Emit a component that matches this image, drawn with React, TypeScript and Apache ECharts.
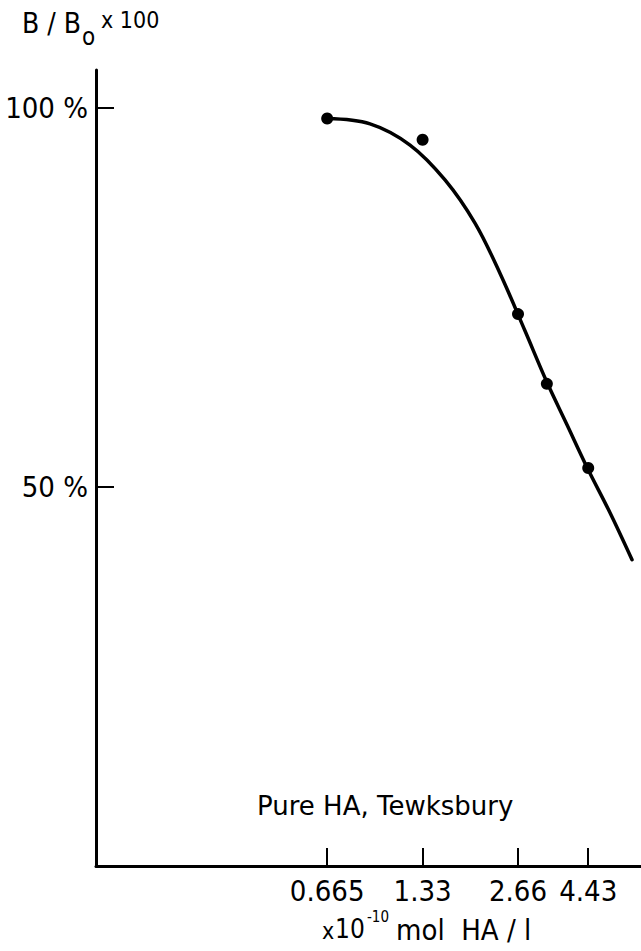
import React, { useEffect, useRef } from "react";
import * as echarts from "echarts";

// Measured points: concentration (x10^-10 mol HA/l) and B/B0 x 100 (%)
const pointConc = [0.665, 1.33, 2.66, 3.28, 4.43];
const pointPct = [98.6, 95.8, 72.8, 63.6, 52.5];

// Hand-drawn standard curve through the points
const curveConc = [0.665, 0.908, 1.214, 1.565, 1.946, 2.333, 2.798, 3.283, 3.797, 4.39, 5.19, 6.09];
const curvePct = [98.6, 97.9, 95.1, 90.5, 84.8, 78.2, 70.6, 63.8, 58.2, 52.6, 46.6, 40.4];

// Axis tick positions and labels
const xTickValues = [0.665, 1.33, 2.66, 4.43];
const xTickLabels = ["0.665", "1.33", "2.66", "4.43"];
const yTickValues = [50, 100];
const yTickLabels = ["50 %", "100 %"];

const FONT = "'Liberation Sans Narrow', 'DejaVu Sans Condensed', Roboto, sans-serif";
const WIDE_FONT = "'DejaVu Sans', 'Liberation Sans', sans-serif";
const INK = "#000";

function nearestLabel(values: number[], labels: string[], v: number) {
  let best = 0;
  for (let i = 1; i < values.length; i++) {
    if (Math.abs(values[i] - v) < Math.abs(values[best] - v)) best = i;
  }
  return labels[best];
}

export default function App() {
  const ref = useRef<HTMLDivElement>(null);

  useEffect(() => {
    if (!ref.current) return;
    const chart = echarts.init(ref.current, null, { renderer: "svg" });

    chart.setOption({
      animation: false,
      backgroundColor: "#fff",
      grid: { left: 96, right: 0, top: 70, bottom: 85, containLabel: false },
      xAxis: {
        type: "log",
        min: 0.124,
        max: 6.5,
        axisLine: { show: true, lineStyle: { color: INK, width: 3 } },
        axisTick: {
          show: true,
          inside: true,
          length: 18,
          customValues: xTickValues,
          lineStyle: { color: INK, width: 2 },
        },
        axisLabel: {
          show: true,
          customValues: xTickValues,
          margin: 10,
          color: INK,
          fontFamily: FONT,
          fontSize: 29,
          formatter: (v: number) => nearestLabel(xTickValues, xTickLabels, v),
        },
        splitLine: { show: false },
        minorTick: { show: false },
      },
      yAxis: {
        type: "value",
        min: 0,
        max: 105,
        axisLine: { show: true, lineStyle: { color: INK, width: 3 } },
        axisTick: {
          show: true,
          inside: true,
          length: 18,
          customValues: yTickValues,
          lineStyle: { color: INK, width: 2 },
        },
        axisLabel: {
          show: true,
          customValues: yTickValues,
          margin: 8,
          color: INK,
          fontFamily: FONT,
          fontSize: 29,
          formatter: (v: number) => nearestLabel(yTickValues, yTickLabels, v),
        },
        splitLine: { show: false },
      },
      series: [
        {
          type: "line",
          smooth: 0.35,
          showSymbol: false,
          data: curveConc.map((c, i) => [c, curvePct[i]]),
          lineStyle: { color: INK, width: 3.5, cap: "round", opacity: 1 },
          z: 2,
        },
        {
          type: "scatter",
          symbol: "circle",
          symbolSize: 12,
          data: pointConc.map((c, i) => [c, pointPct[i]]),
          itemStyle: { color: INK, opacity: 1 },
          z: 3,
        },
      ],
      graphic: [
        // y-axis title: B/B0 x 100
        {
          type: "text",
          left: 22,
          top: 9,
          style: { text: "B / B", fill: INK, font: `28px ${FONT}` },
        },
        {
          type: "text",
          left: 82,
          top: 25,
          style: { text: "o", fill: INK, font: `24px ${FONT}` },
        },
        {
          type: "text",
          left: 101,
          top: 8,
          style: { text: "x 100", fill: INK, font: `23px ${FONT}` },
        },
        // plot annotation
        {
          type: "text",
          left: 257,
          top: 793,
          style: { text: "Pure HA, Tewksbury", fill: INK, font: `26px ${WIDE_FONT}` },
        },
        // x-axis title: x10^-10 mol HA/l
        {
          type: "text",
          left: 322,
          top: 919,
          style: { text: "x", fill: INK, font: `23px ${FONT}` },
        },
        {
          type: "text",
          left: 335,
          top: 916,
          style: { text: "10", fill: INK, font: `26px ${FONT}` },
        },
        {
          type: "text",
          left: 367,
          top: 909,
          style: { text: "-10", fill: INK, font: `15px ${FONT}` },
        },
        {
          type: "text",
          left: 396,
          top: 915,
          style: { text: "mol  HA / l", fill: INK, font: `29px ${FONT}` },
        },
      ],
    });

    return () => chart.dispose();
  }, []);

  return (
    <div
      ref={ref}
      style={{ position: "absolute", left: 0, top: 0, width: 641, height: 951 }}
    />
  );
}
